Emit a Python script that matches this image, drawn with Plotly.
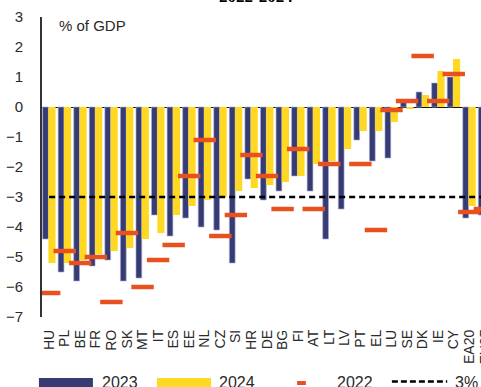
import plotly.graph_objects as go

# General government balance by member state, % of GDP
countries = ["HU", "PL", "BE", "FR", "RO", "SK", "MT", "IT", "ES", "EE", "NL", "CZ", "SI", "HR",
             "DE", "BG", "FI", "AT", "LT", "LV", "PT", "EL", "LU", "SE", "DK", "IE", "CY", "EA20", "EU27"]
bal_2023 = [-4.4, -5.5, -5.8, -5.3, -5.1, -5.8, -5.7, -3.6, -4.3, -3.7, -4.0, -4.1, -5.2, -2.4,
            -3.1, -2.8, -2.3, -2.8, -4.4, -3.4, -1.1, -1.8, -1.7, 0.2, 0.5, 0.8, 1.0, -3.7, -3.6]
bal_2024 = [-5.2, -5.2, -5.1, -4.9, -4.8, -4.7, -4.4, -4.2, -3.6, -3.3, -3.1, -3.0, -2.8, -2.7,
            -2.6, -2.5, -2.3, -1.9, -1.8, -1.4, -0.8, -0.8, -0.5, -0.05, 0.4, 1.2, 1.6, -3.3, -3.2]
bal_2022 = [-6.2, -4.8, -5.2, -5.0, -6.5, -4.2, -6.0, -5.1, -4.6, -2.3, -1.1, -4.3, -3.6, -1.6,
            -2.3, -3.4, -1.4, -3.4, -1.9, None, -1.9, -4.1, -0.1, 0.2, 1.7, 0.2, 1.1, -3.5, -3.4]
threshold = [-3.0] * len(countries)

NAVY = "#363B73"
YELLOW = "#FFD824"
ORANGE = "#E8501E"
TEXT = "#2a2a2a"
FONT = "Liberation Sans, Arial, sans-serif"

X_MIN, X_MAX = -0.46, 27.75

fig = go.Figure()

fig.add_trace(go.Bar(
    x=countries, y=bal_2023, name="2023",
    marker=dict(color=NAVY, line=dict(color="rgba(165,170,210,0.8)", width=0.8)),
    width=0.37, offset=-0.42,
))
fig.add_trace(go.Bar(
    x=countries, y=bal_2024, name="2024",
    marker=dict(color=YELLOW, line=dict(width=0)),
    width=0.46, offset=-0.05,
))
fig.add_trace(go.Scatter(
    x=countries, y=threshold, name="3%", mode="lines",
    line=dict(color="black", width=2.5, dash="6px,4px"),
))
fig.add_trace(go.Scatter(
    x=countries, y=bal_2022, name="2022", mode="markers",
    marker=dict(symbol="line-ew", size=16, line=dict(color=ORANGE, width=4.5)),
))

# Hand-drawn legend strip along the bottom edge (paper coordinates)
legend_shapes = [
    dict(type="rect", xref="paper", yref="paper", x0=-0.007, x1=0.116, y0=-0.203, y1=-0.26,
         fillcolor=NAVY, line=dict(width=0)),
    dict(type="rect", xref="paper", yref="paper", x0=0.262, x1=0.385, y0=-0.203, y1=-0.26,
         fillcolor=YELLOW, line=dict(width=0)),
    dict(type="line", xref="paper", yref="paper", x0=0.581, x1=0.601, y0=-0.22, y1=-0.22,
         line=dict(color=ORANGE, width=4)),
    dict(type="line", xref="paper", yref="paper", x0=0.797, x1=0.923, y0=-0.215, y1=-0.215,
         line=dict(color="black", width=2.5, dash="6px,3px")),
]
legend_labels = [("2023", 0.132), ("2024", 0.398), ("2022", 0.667), ("3%", 0.936)]
annotations = [
    dict(text=t, x=x, y=-0.218, xref="paper", yref="paper", xanchor="left", yanchor="middle",
         showarrow=False, font=dict(family=FONT, size=16, color=TEXT))
    for t, x in legend_labels
]
annotations.append(dict(text="% of GDP", x=0.034, y=0.973, xref="paper", yref="paper",
                        xanchor="left", yanchor="middle", showarrow=False,
                        font=dict(family=FONT, size=15, color=TEXT)))
annotations.append(dict(text="<b>2022-2024</b>", x=0.487, y=1.068, xref="paper", yref="paper",
                        xanchor="center", yanchor="middle", showarrow=False,
                        font=dict(family="Liberation Serif, Times New Roman, serif", size=17,
                                  color="black")))
# last category label sits past the axis range, so it is placed in paper units at its slot
last_slot = (len(countries) - 1 - X_MIN) / (X_MAX - X_MIN)
annotations.append(dict(text=countries[-1], x=last_slot, y=-0.034, xref="paper", yref="paper",
                        xanchor="center", yanchor="top", textangle=-90, showarrow=False,
                        font=dict(family=FONT, size=14, color=TEXT)))

fig.update_layout(
    width=481, height=387,
    margin=dict(l=42, r=0, t=17, b=70),
    paper_bgcolor="white", plot_bgcolor="white",
    showlegend=False,
    barmode="overlay",
    shapes=legend_shapes,
    annotations=annotations,
    font=dict(family=FONT, color=TEXT),
)
fig.update_xaxes(
    range=[X_MIN, X_MAX], showgrid=False, showline=False, zeroline=False,
    tickmode="array", tickvals=countries, ticktext=countries,
    ticks="", tickangle=-90, tickfont=dict(size=14, color=TEXT, family=FONT),
    ticklabelstandoff=9,
)
fig.update_yaxes(
    range=[-7, 3], dtick=1, showgrid=False,
    showline=True, linecolor="#333333", linewidth=1.6,
    zeroline=True, zerolinecolor="#111111", zerolinewidth=1.2,
    ticks="", tickfont=dict(size=15, color=TEXT, family=FONT),
    ticklabelstandoff=14,
)

fig.write_html("out.html")
